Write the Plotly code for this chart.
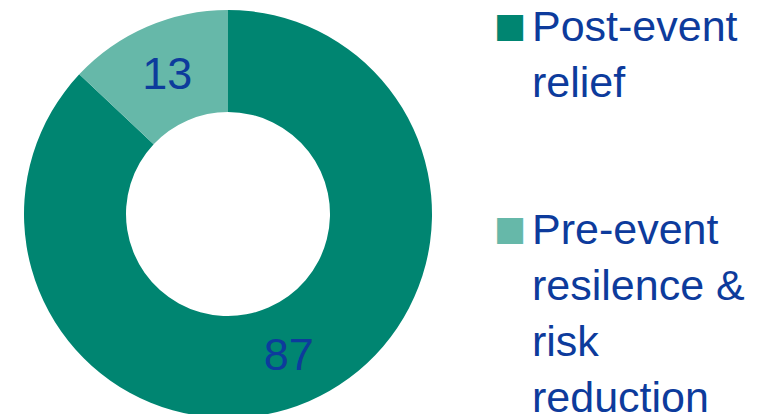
import plotly.graph_objects as go

labels = ["Post-event<br>relief", "Pre-event<br>resilence &<br>risk<br>reduction"]
values = [87, 13]
colors = ["#008571", "#66b8a9"]
text_color = "#0d3b9c"

W, H = 777, 428

fig = go.Figure()
fig.add_trace(go.Pie(
    labels=labels,
    values=values,
    hole=0.5,
    sort=False,
    direction="clockwise",
    rotation=0,
    marker=dict(colors=colors, line=dict(width=0)),
    textinfo="value",
    textposition="inside",
    insidetextorientation="horizontal",
    textfont=dict(family="Liberation Sans, Arial, sans-serif", size=45, color=text_color),
    domain=dict(x=[24 / W, 432 / W], y=[0, 1]),
    showlegend=False,
    hoverinfo="label+value",
))

# legend drawn as text entries built from the category list
legend_tops = [0, 203]
for lab, col, top in zip(labels, colors, legend_tops):
    fig.add_annotation(
        x=492 / W, y=1 - (top + 3) / H, xref="paper", yref="paper",
        xanchor="left", yanchor="top", showarrow=False,
        text="■", font=dict(family="DejaVu Sans", size=34, color=col),
    )
    fig.add_annotation(
        x=530 / W, y=1 - top / H, xref="paper", yref="paper",
        xanchor="left", yanchor="top", align="left", showarrow=False,
        text=lab, font=dict(family="Liberation Sans, Arial, sans-serif", size=43, color=text_color),
    )

fig.update_layout(
    width=W, height=H,
    margin=dict(l=0, r=0, t=0, b=0),
    paper_bgcolor="white", plot_bgcolor="white",
    showlegend=False,
)

fig.write_html("out.html")
